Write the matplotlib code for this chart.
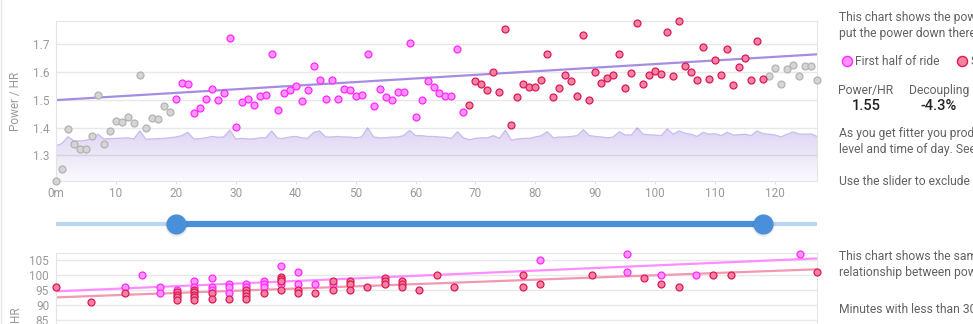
import numpy as np
import matplotlib.pyplot as plt
from matplotlib.colors import LinearSegmentedColormap

plt.rcParams['font.family'] = ['Roboto', 'DejaVu Sans']

# ---- ride data -------------------------------------------------------------
minutes = np.arange(0, 128)

power_hr = [
    1.208, 1.250, 1.395, 1.342, 1.322, 1.322, 1.368, 1.516, 1.342, 1.389,
    1.423, 1.420, 1.438, 1.416, 1.588, 1.398, 1.435, 1.431, 1.478, 1.457,
    1.503, 1.559, 1.556, 1.451, 1.471, 1.503, 1.539, 1.498, 1.524, 1.724,
    1.402, 1.492, 1.503, 1.481, 1.513, 1.518, 1.666, 1.462, 1.523, 1.534,
    1.549, 1.497, 1.534, 1.623, 1.573, 1.502, 1.571, 1.502, 1.539, 1.534,
    1.513, 1.517, 1.666, 1.478, 1.540, 1.509, 1.498, 1.528, 1.528, 1.704,
    1.439, 1.498, 1.567, 1.546, 1.523, 1.513, 1.513, 1.683, 1.457, 1.481,
    1.568, 1.556, 1.534, 1.599, 1.529, 1.756, 1.409, 1.509, 1.557, 1.546,
    1.546, 1.572, 1.664, 1.509, 1.541, 1.589, 1.567, 1.514, 1.733, 1.498,
    1.599, 1.561, 1.579, 1.590, 1.664, 1.544, 1.597, 1.776, 1.558, 1.590,
    1.603, 1.592, 1.743, 1.585, 1.785, 1.623, 1.600, 1.571, 1.690, 1.575,
    1.645, 1.588, 1.684, 1.553, 1.617, 1.650, 1.570, 1.711, 1.574, 1.586,
    1.614, 1.556, 1.611, 1.627, 1.585, 1.623, 1.623, 1.570,
]

# background effort profile (drawn on the ratio scale)
effort_band = [
    1.334, 1.343, 1.367, 1.352, 1.352, 1.354, 1.361, 1.376, 1.359, 1.360,
    1.361, 1.362, 1.363, 1.359, 1.388, 1.358, 1.359, 1.360, 1.361, 1.363,
    1.366, 1.371, 1.383, 1.359, 1.360, 1.363, 1.368, 1.365, 1.366, 1.391,
    1.359, 1.361, 1.359, 1.359, 1.363, 1.363, 1.388, 1.361, 1.361, 1.366,
    1.368, 1.363, 1.361, 1.383, 1.388, 1.366, 1.366, 1.368, 1.366, 1.366,
    1.363, 1.366, 1.399, 1.366, 1.363, 1.363, 1.366, 1.366, 1.371, 1.390,
    1.371, 1.371, 1.368, 1.368, 1.366, 1.365, 1.361, 1.385, 1.363, 1.356,
    1.361, 1.363, 1.363, 1.371, 1.361, 1.390, 1.354, 1.359, 1.361, 1.361,
    1.366, 1.371, 1.385, 1.363, 1.366, 1.366, 1.368, 1.371, 1.392, 1.371,
    1.368, 1.366, 1.363, 1.366, 1.385, 1.373, 1.373, 1.399, 1.376, 1.374,
    1.373, 1.371, 1.395, 1.376, 1.388, 1.379, 1.376, 1.368, 1.383, 1.376,
    1.378, 1.371, 1.383, 1.373, 1.374, 1.376, 1.371, 1.388, 1.378, 1.376,
    1.373, 1.366, 1.376, 1.384, 1.377, 1.376, 1.377, 1.368,
]

slider_start, slider_end = 20, 118
trend_start, trend_end = 1.499, 1.664

# HR against power bins, split by half of the selected range
first_half_bin = [4, 5, 6, 6, 7, 8, 8, 9, 9, 9, 10, 10, 10, 11, 11, 12, 12, 12,
                  13, 13, 14, 14, 15, 16, 28, 33, 33, 35, 37, 43]
first_half_hr = [96, 100, 96, 94, 95, 98, 96, 99, 96, 95, 97, 96, 94, 97, 96, 98, 97, 96,
                 103, 97, 101, 97, 97, 97, 105, 107, 101, 100, 100, 107]
second_half_bin = [0, 2, 4, 7, 7, 7, 7, 8, 8, 8, 8, 8, 9, 9, 10, 11, 11, 11, 11, 12,
                   13, 13, 13, 13, 14, 14, 15, 16, 16, 17, 17, 17, 18, 19, 19, 19,
                   20, 20, 20, 21, 22, 23, 27, 27, 28, 31, 34, 35, 36, 38, 39, 44]
second_half_hr = [96, 91, 94, 94.2, 93.4, 92.5, 91.8, 95, 94.2, 93.3, 92.5, 91.8, 94, 92,
                  92, 95, 94, 93, 92, 94, 99.2, 98.7, 98, 95, 95, 94, 94, 98, 95,
                  98, 97, 95, 96, 99, 98, 97, 98, 97, 96, 95, 100, 96, 100, 96, 97,
                  100, 99, 97, 96, 100, 100, 101]
first_fit = (94.5, 105.4)
second_fit = (92.5, 101.8)

ratio_text = "1.55"
decoupling_text = "-4.3%"

# ---- colours ---------------------------------------------------------------
GRAY_FC, GRAY_EC = '#d5d5d5', '#b3b3b3'
MAG_FC, MAG_EC = '#ff94ff', '#ff2aff'
RED_FC, RED_EC = '#f0839f', '#de1858'
TICK = '#9a9a9a'
TEXT = '#626262'

W, H = 973, 324
fig = plt.figure(figsize=(W / 100, H / 100), dpi=100)


def box(x0, y0, x1, y1):
    return [x0 / W, 1 - y1 / H, (x1 - x0) / W, (y1 - y0) / H]


# side panel text lives in a pixel-space overlay
side = fig.add_axes([0, 0, 1, 1], zorder=-1)
side.set_xlim(0, W)
side.set_ylim(H, 0)
side.axis('off')
side.plot([1, 1], [0, H], color='#e6e6e6', lw=1)

# ---- top chart: power / HR per minute -------------------------------------
ax = fig.add_axes(box(56, 21.3, 817, 181.3))
ymin, ymax = 1.2063, 1.783
ax.set_xlim(0, 127)
ax.set_ylim(ymin, ymax)

band = ax.fill_between(minutes, effort_band, ymin, color='none', lw=0)
grad = ax.imshow(np.linspace(0, 1, 256).reshape(-1, 1),
                 cmap=LinearSegmentedColormap.from_list('band', ['#fbfafe', '#ddd4f3']),
                 extent=[0, 127, ymin, max(effort_band)], origin='lower',
                 aspect='auto', zorder=1)
grad.set_clip_path(band.get_paths()[0], transform=ax.transData)
ax.plot(minutes, effort_band, color='#c9bcee', lw=0.9, zorder=1.2)
ax.set_xlim(0, 127)
ax.set_ylim(ymin, ymax)

for v in [1.3, 1.4, 1.5, 1.6, 1.7]:
    ax.axhline(v, color='k', alpha=0.09, lw=1, zorder=1.5)

ratio = np.array(power_hr)
split = (slider_start + slider_end) / 2
outside = (minutes < slider_start) | (minutes > slider_end)
first = ~outside & (minutes < split)
second = ~outside & (minutes >= split)
for mask, fc, ec in [(outside, GRAY_FC, GRAY_EC), (first, MAG_FC, MAG_EC), (second, RED_FC, RED_EC)]:
    ax.plot(minutes[mask], ratio[mask], 'o', ms=5, mfc=fc, mec=ec, mew=0.9,
            zorder=3, clip_on=False)

ax.plot([minutes[0], minutes[-1]], [trend_start, trend_end], color='#a58ee2', lw=1.6, zorder=2.5)

ax.set_xticks(range(0, 121, 10))
ax.set_xticklabels(['0m'] + [str(v) for v in range(10, 121, 10)])
ax.set_yticks([1.3, 1.4, 1.5, 1.6, 1.7])
ax.tick_params(axis='x', length=2, color='#dddddd', labelcolor=TICK, labelsize=8.5, pad=2)
ax.tick_params(axis='y', length=0, labelcolor=TICK, labelsize=8.5, pad=5)
ax.set_ylabel('Power / HR', color=TICK, fontsize=8.5)
ax.yaxis.set_label_coords(-0.045, 0.5)
for s in ax.spines.values():
    s.set_color('#e4e4e4')
    s.set_linewidth(0.8)

# ---- range slider ----------------------------------------------------------
sl = fig.add_axes(box(56, 209, 817, 239))
sl.set_xlim(0, 127)
sl.set_ylim(-1, 1)
sl.axis('off')
sl.plot([minutes[0], minutes[-1]], [0, 0], color='#b9d5f2', lw=3, solid_capstyle='round')
sl.plot([slider_start, slider_end], [0, 0], color='#4a8fd9', lw=4.5)
sl.plot([slider_start, slider_end], [-0.08, -0.08], 'o', ms=16, color='k', alpha=0.08, mec='none')
sl.plot([slider_start, slider_end], [0, 0], 'o', ms=14.5, mfc='#4a8fd9', mec='none')

# ---- bottom chart: HR against power ---------------------------------------
bx = fig.add_axes(box(56, 253.3, 817, 375))
bx.set_xlim(0, 44)
bx.set_ylim(66.8, 107.1)
for v in range(70, 106, 5):
    bx.axhline(v, color='k', alpha=0.09, lw=1, zorder=1)
bx.plot([0, 44], first_fit, color='#ff8dff', lw=1.6, zorder=2)
bx.plot([0, 44], second_fit, color='#f199b0', lw=1.6, zorder=2)
bx.plot(first_half_bin, first_half_hr, 'o', ms=5, mfc=MAG_FC, mec=MAG_EC, mew=0.9,
        zorder=3, clip_on=False)
bx.plot(second_half_bin, second_half_hr, 'o', ms=5, mfc=RED_FC, mec=RED_EC, mew=0.9,
        zorder=3, clip_on=False)
bx.set_xticks([])
bx.set_yticks(range(70, 106, 5))
bx.tick_params(axis='y', length=0, labelcolor=TICK, labelsize=8.5, pad=5)
bx.set_ylabel('HR', color=TICK, fontsize=8.5)
bx.yaxis.set_label_coords(-0.045, 0.5)
for s in bx.spines.values():
    s.set_color('#e4e4e4')
    s.set_linewidth(0.8)

# ---- side panel ------------------------------------------------------------
fs = 8.7
side.text(839, 20.7, 'This chart shows the power to heart rate', color=TEXT, fontsize=fs)
side.text(839, 36.7, 'put the power down there and', color=TEXT, fontsize=fs)
side.plot(846.7, 61, 'o', ms=7.3, mfc=MAG_FC, mec=MAG_EC, mew=1)
side.text(855, 65, 'First half of ride', color=TEXT, fontsize=fs)
side.plot(961.7, 61, 'o', ms=7.3, mfc=RED_FC, mec=RED_EC, mew=1)
side.text(971, 65, 'Second half', color=TEXT, fontsize=fs)
side.text(866, 94.3, 'Power/HR', color=TEXT, fontsize=fs, ha='center')
side.text(938.8, 94.3, 'Decoupling', color=TEXT, fontsize=fs, ha='center')
side.text(866, 110, ratio_text, color='#222222', fontsize=10.5, ha='center', fontweight='medium')
side.text(938.8, 110, decoupling_text, color='#222222', fontsize=10.5, ha='center', fontweight='medium')
side.text(839, 136.7, 'As you get fitter you produce more power', color=TEXT, fontsize=fs)
side.text(839, 152.7, 'level and time of day. See how', color=TEXT, fontsize=fs)
side.text(839, 185, 'Use the slider to exclude warm up', color=TEXT, fontsize=fs)
side.text(839, 260, 'This chart shows the same', color=TEXT, fontsize=fs)
side.text(839, 276, 'relationship between power', color=TEXT, fontsize=fs)
side.text(839, 312.7, 'Minutes with less than 30', color=TEXT, fontsize=fs)

fig.savefig('out.png', dpi=100)
